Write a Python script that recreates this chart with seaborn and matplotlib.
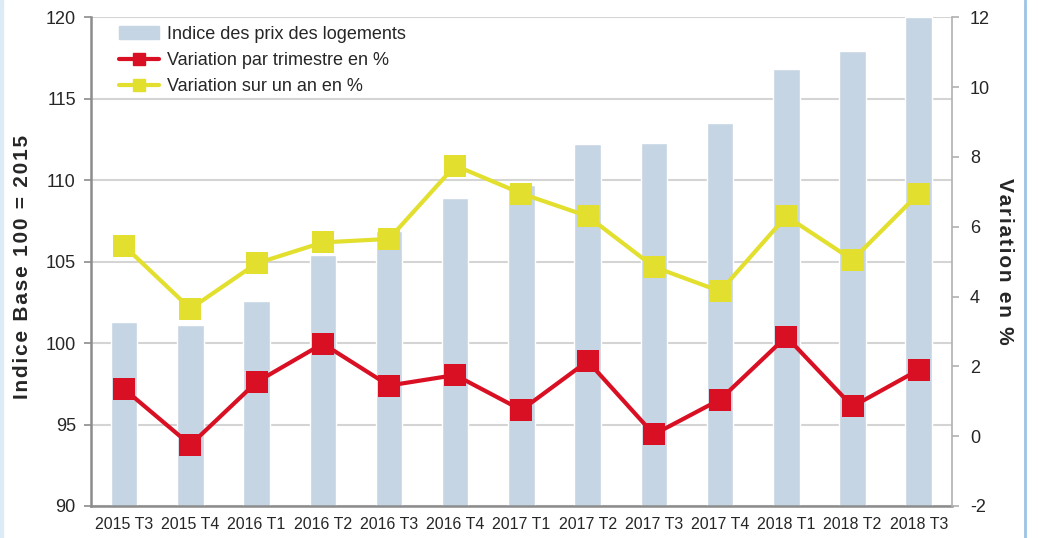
import numpy as np
import pandas as pd
import seaborn as sns
import matplotlib.pyplot as plt
from matplotlib.lines import Line2D
from matplotlib.patches import Rectangle

trimestres = ["2015 T3", "2015 T4", "2016 T1", "2016 T2", "2016 T3", "2016 T4",
              "2017 T1", "2017 T2", "2017 T3", "2017 T4", "2018 T1", "2018 T2", "2018 T3"]
indice = [101.3, 101.1, 102.6, 105.4, 106.9, 108.9, 109.7, 112.2, 112.3, 113.5, 116.8, 117.9, 120.0]
var_trim = [1.35, -0.25, 1.55, 2.65, 1.45, 1.75, 0.75, 2.15, 0.05, 1.05, 2.85, 0.85, 1.9]
var_an = [5.45, 3.65, 4.95, 5.55, 5.65, 7.75, 6.95, 6.3, 4.85, 4.15, 6.3, 5.05, 6.95]

BAR = "#C5D5E3"
RED = "#D91023"
YEL = "#E2DF2E"
GRID = "#D4D4D4"
SPINE = "#8C8C8C"

sns.set_style("white")
plt.rcParams['font.family'] = ['Liberation Sans', 'DejaVu Sans']
plt.rcParams['axes.unicode_minus'] = False


def spaced(txt):
    # écartement des lettres comme dans l'original (espace fine)
    return "\u200a".join(txt)


df = pd.DataFrame({"trimestre": trimestres, "indice": indice,
                   "var_trim": var_trim, "var_an": var_an})
df["pos"] = np.arange(len(df))

fig = plt.figure(figsize=(10.38, 5.38), dpi=100)
ax = fig.add_axes([0.0877, 0.0595, 0.8293, 0.9085])

sns.barplot(data=df, x="trimestre", y="indice", color=BAR, width=0.4,
            saturation=1, ax=ax, zorder=2)
ax.set_ylim(90, 120)
ax.set_xlim(-0.5, len(df) - 0.5)
ax.set_yticks(np.arange(90, 121, 5))
ax.yaxis.grid(True, color=GRID, linewidth=1.5, zorder=0)
ax.set_axisbelow(True)
ax.set_xlabel("")
ax.set_ylabel(spaced("Indice Base 100 = 2015"), fontsize=15, fontweight="bold")
ax.yaxis.set_label_coords(-0.068, 0.49)
ax.tick_params(axis="y", labelsize=13, length=5, color=SPINE, width=1.2, pad=6)
ax.tick_params(axis="x", which="major", labelsize=11.5, length=0, pad=8)
ax.set_xticks(np.arange(-0.5, len(df), 1.0), minor=True)
ax.tick_params(axis="x", which="minor", length=5, color=SPINE, width=1.2)
for s in ["top", "right"]:
    ax.spines[s].set_visible(False)
for s in ["left", "bottom"]:
    ax.spines[s].set_color(SPINE)
    ax.spines[s].set_linewidth(1.8)

ax2 = ax.twinx()
sns.lineplot(data=df, x="pos", y="var_trim", color=RED, linewidth=3, marker="s",
             markersize=16, markeredgewidth=0, ax=ax2, zorder=4)
sns.lineplot(data=df, x="pos", y="var_an", color=YEL, linewidth=3, marker="s",
             markersize=16, markeredgewidth=0, ax=ax2, zorder=3)
ax2.set_ylim(-2, 12)
ax2.set_yticks(np.arange(-2, 13, 2))
ax2.set_xlim(-0.5, len(df) - 0.5)
ax2.set_xlabel("")
ax2.set_ylabel(spaced("Variation en %"), fontsize=15, fontweight="bold", rotation=270,
               labelpad=17)
ax2.tick_params(axis="y", labelsize=13, length=5, color="#B0B0B0", width=1.2, pad=8)
for s in ["top", "left", "bottom"]:
    ax2.spines[s].set_visible(False)
ax2.spines["right"].set_color("#B0B0B0")
ax2.spines["right"].set_linewidth(1.2)

handles = [Rectangle((0, 0), 1, 1, color=BAR),
           Line2D([], [], color=RED, linewidth=3, marker="s", markersize=9),
           Line2D([], [], color=YEL, linewidth=3, marker="s", markersize=9)]
labels = ["Indice des prix des logements", "Variation par trimestre en %",
          "Variation sur un an en %"]
ax2.legend(handles, labels, loc="upper left", bbox_to_anchor=(0.014, 1.015),
           frameon=False, fontsize=13, handlelength=2.2, labelspacing=0.5,
           handletextpad=0.45)

fig.add_artist(Line2D([0.9875, 0.9875], [0, 1], color="#9DC3E6", linewidth=2,
                      transform=fig.transFigure))
fig.add_artist(Rectangle((0, 0), 0.003, 1, color="#DDEBF7", transform=fig.transFigure))

fig.savefig("out.png", dpi=100)
